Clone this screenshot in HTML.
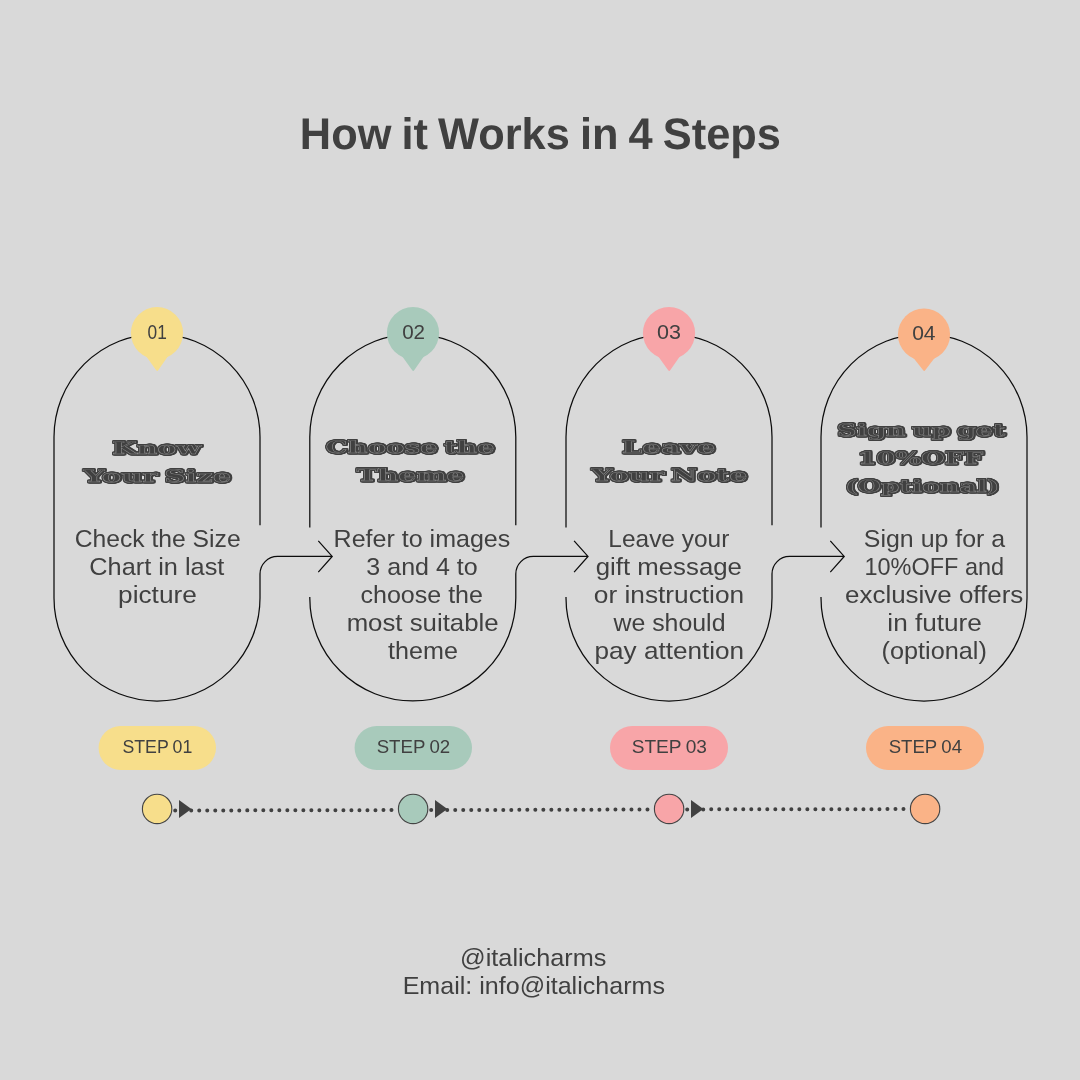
<!DOCTYPE html>
<html lang="en">
<head>
<meta charset="utf-8">
<title>How it Works in 4 Steps</title>
<style>
html,body{margin:0;padding:0;background:#d9d9d9;}
body{width:1080px;height:1080px;overflow:hidden;}
svg{display:block;will-change:transform;}
text{fill:#404040;}
.r{font-family:"Liberation Sans", Arial, Helvetica, sans-serif;font-weight:400;}
.b{font-family:"Liberation Sans", Arial, Helvetica, sans-serif;font-weight:700;word-spacing:-2px;text-rendering:geometricPrecision;}
.s{font-family:"Liberation Sans", Arial, Helvetica, sans-serif;font-weight:400;word-spacing:-0.8px;}
.h{font-family:"DejaVu Serif", "Liberation Serif", serif;font-weight:700;text-rendering:geometricPrecision;word-spacing:-0.12em;stroke:#8e8e8e;stroke-width:0.4;filter:drop-shadow(1px 0 0 #404040) drop-shadow(-1px 0 0 #404040) drop-shadow(1px 0 0 #404040) drop-shadow(0 -1px 0 #404040) drop-shadow(0 1px 0 #404040);}
.ln path{fill:none;stroke:#0c0c0c;stroke-width:1.25;}
</style>
</head>
<body>
<svg width="1080" height="1080" viewBox="0 0 1080 1080">
<rect width="1080" height="1080" fill="#d9d9d9"/>
<g class="ln">
<path d="M54 598 L54 437 A103 103 0 0 1 260 437 L260 525.3 M54 598 L54 598 A103 103 0 0 0 260 598 L260 573.95 A17.5 17.5 0 0 1 277.5 556.45 L332 556.45 M318.3 540.85 L332.2 556.45 L318.3 572.05"/>
<path d="M309.8 527.5 L309.8 437 A103 103 0 0 1 515.8 437 L515.8 525.3 M309.8 597 L309.8 598 A103 103 0 0 0 515.8 598 L515.8 573.95 A17.5 17.5 0 0 1 533.3 556.45 L587.8 556.45 M574.1 540.85 L588.0 556.45 L574.1 572.05"/>
<path d="M566 527.5 L566 437 A103 103 0 0 1 772 437 L772 525.3 M566 597 L566 598 A103 103 0 0 0 772 598 L772 573.95 A17.5 17.5 0 0 1 789.5 556.45 L844 556.45 M830.3 540.85 L844.2 556.45 L830.3 572.05"/>
<path d="M821 527.5 L821 437 A103 103 0 0 1 1027 437 L1027 598 M821 597 L821 598 A103 103 0 0 0 1027 598"/>
</g>
<g>
<circle cx="157" cy="333.1" r="26.1" fill="#f7de8b"/>
<path d="M144.5 354.0 L169.5 354.0 L158.2 370.2 Q157.2 371.6 156.2 370.2 Z" fill="#f7de8b"/>
<circle cx="413" cy="333.1" r="26.1" fill="#a8cabb"/>
<path d="M400.5 354.0 L425.5 354.0 L414.2 370.2 Q413.2 371.6 412.2 370.2 Z" fill="#a8cabb"/>
<circle cx="669" cy="333.1" r="26.1" fill="#f8a5a8"/>
<path d="M656.5 354.0 L681.5 354.0 L670.2 370.2 Q669.2 371.6 668.2 370.2 Z" fill="#f8a5a8"/>
<circle cx="924" cy="334.6" r="26.1" fill="#fab387"/>
<path d="M911.5 355.5 L936.5 355.5 L925.2 370.2 Q924.2 371.6 923.2 370.2 Z" fill="#fab387"/>
</g>
<g>
<rect x="98.6" y="726" width="117.4" height="43.9" rx="21.95" fill="#f7de8b"/>
<rect x="354.6" y="726" width="117.4" height="43.9" rx="21.95" fill="#a8cabb"/>
<rect x="610" y="726" width="118" height="43.9" rx="21.95" fill="#f8a5a8"/>
<rect x="866" y="726" width="118" height="43.9" rx="21.95" fill="#fab387"/>
</g>
<g>
<line x1="175.2" y1="810.5" x2="392" y2="810.1" stroke="#414141" stroke-width="4" stroke-linecap="round" stroke-dasharray="0.01 8"/>
<path d="M179 800.1 L191.4 809 L179 817.9 Z" fill="#414141"/>
<line x1="431.2" y1="810.1" x2="648" y2="809.5" stroke="#414141" stroke-width="4" stroke-linecap="round" stroke-dasharray="0.01 8"/>
<path d="M435 800.1 L447.4 809 L435 817.9 Z" fill="#414141"/>
<line x1="687.2" y1="809.4" x2="904" y2="809.1" stroke="#414141" stroke-width="4" stroke-linecap="round" stroke-dasharray="0.01 8"/>
<path d="M691 800.1 L703.4 809 L691 817.9 Z" fill="#414141"/>
<circle cx="157.1" cy="808.9" r="14.7" fill="#f7de8b" stroke="#444" stroke-width="1.1"/>
<circle cx="413.1" cy="808.9" r="14.7" fill="#a8cabb" stroke="#444" stroke-width="1.1"/>
<circle cx="669.1" cy="808.9" r="14.7" fill="#f8a5a8" stroke="#444" stroke-width="1.1"/>
<circle cx="925.1" cy="808.9" r="14.7" fill="#fab387" stroke="#444" stroke-width="1.1"/>
</g>
<g id="texts">
<text id="title" class="b" y="149" font-size="44.2" x="299.83" textLength="481.14" lengthAdjust="spacingAndGlyphs">How it Works in 4 Steps</text>
<text id="h1a" class="h" y="454" font-size="17.0" x="111.95" textLength="88.78" lengthAdjust="spacingAndGlyphs">Know</text>
<text id="h1b" class="h" y="482" font-size="17.0" x="83.58" textLength="147.64" lengthAdjust="spacingAndGlyphs">Your Size</text>
<text id="h2a" class="h" y="453" font-size="17.0" x="325.55" textLength="168.98" lengthAdjust="spacingAndGlyphs">Choose the</text>
<text id="h2b" class="h" y="481" font-size="17.0" x="356.44" textLength="107.79" lengthAdjust="spacingAndGlyphs">Theme</text>
<text id="h3a" class="h" y="453" font-size="17.0" x="621.86" textLength="93.49" lengthAdjust="spacingAndGlyphs">Leave</text>
<text id="h3b" class="h" y="481" font-size="17.0" x="591.61" textLength="155.75" lengthAdjust="spacingAndGlyphs">Your Note</text>
<text id="h4a" class="h" y="436" font-size="17.0" x="837.04" textLength="168.35" lengthAdjust="spacingAndGlyphs">Sign up get</text>
<text id="h4b" class="h" y="464" font-size="17.0" x="857.51" textLength="125.68" lengthAdjust="spacingAndGlyphs">10%OFF</text>
<text id="h4c" class="h" y="492" font-size="17.0" x="844.92" textLength="154.52" lengthAdjust="spacingAndGlyphs">(Optional)</text>
<text id="b10" class="r" y="547" font-size="24.2" x="74.67" textLength="165.97" lengthAdjust="spacingAndGlyphs">Check the Size</text>
<text id="b11" class="r" y="575" font-size="24.2" x="89.30" textLength="135.07" lengthAdjust="spacingAndGlyphs">Chart in last</text>
<text id="b12" class="r" y="603" font-size="24.2" x="118.10" textLength="78.68" lengthAdjust="spacingAndGlyphs">picture</text>
<text id="b20" class="r" y="547" font-size="24.2" x="333.63" textLength="176.66" lengthAdjust="spacingAndGlyphs">Refer to images</text>
<text id="b21" class="r" y="575" font-size="24.2" x="366.36" textLength="111.33" lengthAdjust="spacingAndGlyphs">3 and 4 to</text>
<text id="b22" class="r" y="603" font-size="24.2" x="360.48" textLength="122.50" lengthAdjust="spacingAndGlyphs">choose the</text>
<text id="b23" class="r" y="631" font-size="24.2" x="346.65" textLength="151.93" lengthAdjust="spacingAndGlyphs">most suitable</text>
<text id="b24" class="r" y="659" font-size="24.2" x="388.12" textLength="69.89" lengthAdjust="spacingAndGlyphs">theme</text>
<text id="b30" class="r" y="547" font-size="24.2" x="608.36" textLength="120.96" lengthAdjust="spacingAndGlyphs">Leave your</text>
<text id="b31" class="r" y="575" font-size="24.2" x="595.67" textLength="146.30" lengthAdjust="spacingAndGlyphs">gift message</text>
<text id="b32" class="r" y="603" font-size="24.2" x="593.81" textLength="150.38" lengthAdjust="spacingAndGlyphs">or instruction</text>
<text id="b33" class="r" y="631" font-size="24.2" x="613.43" textLength="112.06" lengthAdjust="spacingAndGlyphs">we should</text>
<text id="b34" class="r" y="659" font-size="24.2" x="594.50" textLength="149.62" lengthAdjust="spacingAndGlyphs">pay attention</text>
<text id="b40" class="r" y="547" font-size="24.2" x="863.86" textLength="141.30" lengthAdjust="spacingAndGlyphs">Sign up for a</text>
<text id="b41" class="r" y="575" font-size="24.2" x="864.48" textLength="139.61" lengthAdjust="spacingAndGlyphs">10%OFF and</text>
<text id="b42" class="r" y="603" font-size="24.2" x="845.07" textLength="178.21" lengthAdjust="spacingAndGlyphs">exclusive offers</text>
<text id="b43" class="r" y="631" font-size="24.2" x="887.33" textLength="94.56" lengthAdjust="spacingAndGlyphs">in future</text>
<text id="b44" class="r" y="659" font-size="24.2" x="881.55" textLength="105.28" lengthAdjust="spacingAndGlyphs">(optional)</text>
<text id="n0" class="r" y="339" font-size="19.6" x="147.54" textLength="19.26" lengthAdjust="spacingAndGlyphs">01</text>
<text id="n1" class="r" y="339" font-size="19.6" x="402.17" textLength="22.92" lengthAdjust="spacingAndGlyphs">02</text>
<text id="n2" class="r" y="339" font-size="19.6" x="657.14" textLength="23.93" lengthAdjust="spacingAndGlyphs">03</text>
<text id="n3" class="r" y="340" font-size="19.6" x="912.15" textLength="23.42" lengthAdjust="spacingAndGlyphs">04</text>
<text id="s0" class="s" y="753" font-size="19.0" x="122.46" textLength="69.90" lengthAdjust="spacingAndGlyphs">STEP 01</text>
<text id="s1" class="s" y="753" font-size="19.0" x="376.65" textLength="73.57" lengthAdjust="spacingAndGlyphs">STEP 02</text>
<text id="s2" class="s" y="753" font-size="19.0" x="631.67" textLength="75.32" lengthAdjust="spacingAndGlyphs">STEP 03</text>
<text id="s3" class="s" y="753" font-size="19.0" x="888.64" textLength="73.37" lengthAdjust="spacingAndGlyphs">STEP 04</text>
<text id="f1" class="r" y="966" font-size="24.2" x="460.11" textLength="146.26" lengthAdjust="spacingAndGlyphs">@italicharms</text>
<text id="f2" class="r" y="994" font-size="24.2" x="402.65" textLength="262.32" lengthAdjust="spacingAndGlyphs">Email: info@italicharms</text>
</g>
</svg>
</body>
</html>
